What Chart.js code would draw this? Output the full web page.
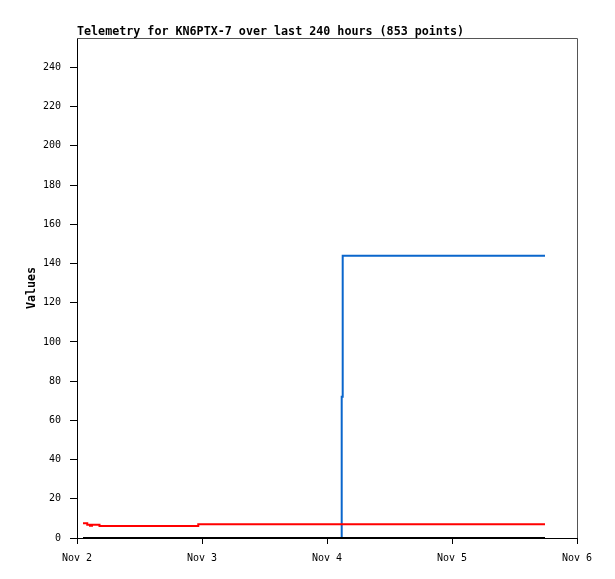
<!DOCTYPE html>
<html>
<head>
<meta charset="utf-8">
<script src="https://cdn.jsdelivr.net/npm/chart.js@4"></script>
<style>
  html, body { margin: 0; padding: 0; background: #fff; }
  #wrap { width: 615px; height: 579px; }
</style>
</head>
<body>
<div id="wrap"><canvas id="telemetryChart"></canvas></div>
<script>
// x values are days since Nov 2 00:00
const dayLabels = ["Nov 2", "Nov 3", "Nov 4", "Nov 5", "Nov 6"];

// red series (change points)
const redDays   = [0.048, 0.082, 0.104, 0.120, 0.180, 0.970, 3.744];
const redValues = [7.5,   6.8,   6.2,   6.8,   6.1,   7.0,   7.0];

// blue series
const blueDays   = [0.048, 2.1176, 2.1256, 3.744];
const blueValues = [0,     72,     144,    144];

// black series
const blackDays   = [0.048, 3.744];
const blackValues = [0, 0];

const titleText = "Telemetry for KN6PTX-7 over last 240 hours (853 points)";
const yTitle = "Values";

function toPoints(xs, ys) {
    return xs.map((x, i) => ({ x: x, y: ys[i] }));
}

// gray top and right frame lines
const framePlugin = {
    id: "frame",
    afterDraw(chart) {
        const a = chart.chartArea;
        const ctx = chart.ctx;
        ctx.save();
        ctx.strokeStyle = "#555555";
        ctx.lineWidth = 1;
        ctx.beginPath();
        ctx.moveTo(a.left, a.top + 0.5);
        ctx.lineTo(a.right + 0.5, a.top + 0.5);
        ctx.lineTo(a.right + 0.5, a.bottom);
        ctx.stroke();
        ctx.restore();
    }
};

const ctx = document.getElementById("telemetryChart").getContext("2d");

new Chart(ctx, {
    type: "line",
    data: {
        datasets: [
            {
                data: toPoints(blackDays, blackValues),
                borderColor: "#000000",
                borderWidth: 2,
                pointRadius: 0,
                stepped: "before"
            },
            {
                data: toPoints(redDays, redValues),
                borderColor: "#ff0000",
                borderWidth: 2,
                pointRadius: 0,
                stepped: "before"
            },
            {
                data: toPoints(blueDays, blueValues),
                borderColor: "#0a66cc",
                borderWidth: 2,
                pointRadius: 0,
                stepped: "before"
            }
        ]
    },
    options: {
        responsive: true,
        maintainAspectRatio: false,
        animation: false,
        layout: { padding: { left: 0, right: 38, top: 0, bottom: 0 } },
        plugins: {
            legend: { display: false },
            tooltip: { enabled: false },
            title: {
                display: true,
                text: titleText,
                align: "start",
                fullSize: false,
                color: "#000",
                font: { family: "DejaVu Sans Mono", size: 11.7, weight: "bold", lineHeight: 1 },
                padding: { top: 26, bottom: 0.3 }
            }
        },
        scales: {
            x: {
                type: "linear",
                min: 0,
                max: 4,
                afterFit(scale) { scale.height = 41; },
                border: { color: "#000", width: 1 },
                grid: { drawOnChartArea: false, color: "#000", tickLength: 6 },
                ticks: {
                    stepSize: 1,
                    color: "#000",
                    padding: 8,
                    maxRotation: 0,
                    font: { family: "DejaVu Sans Mono", size: 10 },
                    callback: (v) => dayLabels[v]
                }
            },
            y: {
                min: 0,
                max: 255,
                afterFit(scale) { scale.width = 77; },
                border: { color: "#000", width: 1 },
                grid: { drawOnChartArea: false, color: "#000", tickLength: 7 },
                ticks: {
                    stepSize: 20,
                    includeBounds: false,
                    color: "#000",
                    padding: 9,
                    font: { family: "DejaVu Sans Mono", size: 10 }
                },
                title: {
                    display: true,
                    text: yTitle,
                    color: "#000",
                    font: { family: "DejaVu Sans Mono", size: 11.7, weight: "bold", lineHeight: 1 },
                    padding: { top: 26, bottom: 0 }
                }
            }
        }
    },
    plugins: [framePlugin]
});
</script>
</body>
</html>
